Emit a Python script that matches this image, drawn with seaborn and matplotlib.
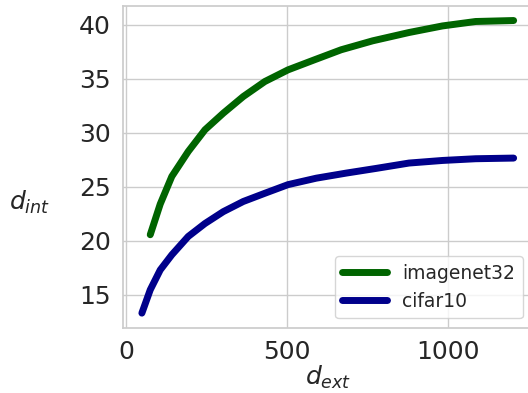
import pandas as pd
import seaborn as sns
import matplotlib.pyplot as plt

# values
imagenet_ext = [74, 105, 141, 192, 244, 301, 363, 430, 502, 584, 667, 765, 878, 982, 1085, 1203]
imagenet_int = [20.56, 23.4, 25.96, 28.27, 30.28, 31.82, 33.36, 34.75, 35.83, 36.76, 37.69, 38.52, 39.29, 39.9, 40.31, 40.4]
cifar_ext = [48, 74, 105, 141, 192, 244, 301, 363, 430, 502, 590, 683, 775, 878, 982, 1085, 1203]
cifar_int = [13.3, 15.46, 17.3, 18.7, 20.4, 21.6, 22.7, 23.64, 24.4, 25.2, 25.8, 26.27, 26.7, 27.2, 27.44, 27.6, 27.66]

df = pd.concat([
    pd.DataFrame({"d_ext": imagenet_ext, "d_int": imagenet_int, "dataset": "imagenet32"}),
    pd.DataFrame({"d_ext": cifar_ext, "d_int": cifar_int, "dataset": "cifar10"}),
])

sns.set_theme(style="whitegrid")
plt.rcParams['font.family'] = ['DejaVu Sans']

fig, ax = plt.subplots(figsize=(5.28, 3.93), dpi=100)
fig.subplots_adjust(left=0.2335, right=1.008, bottom=0.166, top=0.985)

sns.lineplot(
    data=df, x="d_ext", y="d_int", hue="dataset",
    palette={"imagenet32": "darkgreen", "cifar10": "darkblue"},
    linewidth=5, solid_capstyle="round", ax=ax,
)

ax.tick_params(axis="both", labelsize=18, pad=3)
ax.set_xticks([0, 500, 1000])
ax.set_yticks([15, 20, 25, 30, 35, 40])
ax.set_xlabel("$d_{ext}$", fontsize=18, labelpad=0)
ax.set_ylabel("$d_{int}$", fontsize=18, rotation=0, va="center", ha="center")
ax.yaxis.set_label_coords(-0.23, 0.39)

leg = ax.legend(loc="lower right", fontsize=13.5, handlelength=2.4, title=None)
for line in leg.get_lines():
    line.set_linewidth(5)
    line.set_solid_capstyle("round")

fig.savefig("out.png", dpi=100)
